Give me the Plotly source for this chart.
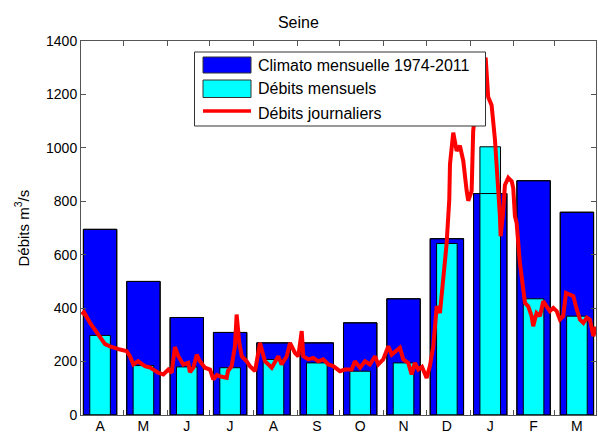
import plotly.graph_objects as go

# ---------------- data ----------------
months = ["A", "M", "J", "J", "A", "S", "O", "N", "D", "J", "F", "M"]
climato = [695, 500, 365, 309, 270, 270, 345, 435, 660, 829, 877, 759]
mensuels = [298, 185, 180, 177, 208, 195, 164, 195, 642, 1004, 435, 370]

# daily flows: day index from 1 April, value in m3/s
days = [0.5, 2.1, 6.4, 9.9, 13.4, 17.0, 20.5, 24.0, 27.6, 32.3, 34.6, 37.0, 40.3, 45.2,
        48.8, 51.1, 54.6, 58.2, 61.7, 64.1, 66.4, 68.8, 72.3, 75.8, 77.0, 79.4, 81.8,
        84.1, 87.6, 91.2, 93.5, 96.1, 98.2, 103.0, 103.9, 106.5, 108.8, 110.0, 111.9,
        113.6, 117.1, 119.4, 123.0, 126.5, 127.7, 130.0, 134.8, 139.4, 141.8, 145.4,
        147.7, 151.2, 153.6, 156.0, 157.1, 160.6, 164.2, 167.7, 171.2, 174.8, 178.3,
        183.0, 186.6, 191.3, 193.6, 197.2, 200.7, 204.2, 207.8, 210.1, 213.6, 217.2,
        219.6, 223.1, 225.4, 227.8, 231.3, 233.7, 236.0, 238.4, 241.0, 244.3, 246.6,
        249.0, 251.4, 253.7, 256.0, 258.4, 260.3, 260.8, 263.1, 265.5, 267.8, 270.2,
        272.6, 273.7, 276.1, 277.2, 281.3, 286.0, 287.8, 290.2, 292.6, 294.9, 296.1,
        296.6, 298.4, 299.6, 302.0, 304.4, 305.5, 306.7, 307.9, 310.2, 312.6, 313.8,
        316.1, 318.5, 319.6, 322.0, 324.4, 326.7, 329.1, 331.4, 333.8, 336.2, 338.5,
        340.8, 342.8, 345.6, 348.0, 350.4, 352.7, 355.1, 357.5, 359.7, 362.1, 364.0]
journaliers = [376, 385, 345, 320, 290, 265, 257, 250, 245, 239, 220, 189, 201, 183,
               178, 170, 158, 152, 170, 158, 255, 220, 189, 195, 160, 177, 226,
               201, 177, 170, 133, 150, 145, 139, 165, 183, 257, 376, 270,
               220, 201, 183, 164, 270, 245, 201, 177, 220, 189, 220,
               270, 233, 220, 314, 220, 208, 214, 201, 208, 189, 183,
               164, 170, 170, 201, 177, 201, 189, 220, 189, 208, 257,
               226, 239, 252, 208, 195, 152, 195, 170, 180, 139, 183,
               257, 407, 382, 507, 640, 807, 939, 1057, 989, 1008, 951,
               839, 802, 839, 1064, 1250, 1338, 1190, 1160, 1030, 860, 744,
               669, 760, 860, 888, 875, 850, 744, 719, 570, 482, 420,
               407, 370, 332, 382, 370, 426, 407, 389, 401, 389, 357,
               370, 457, 451, 445, 395, 357, 345, 364, 357, 295, 330]

month_ends = [30, 61, 91, 122, 153, 183, 214, 244, 275, 306, 335]
yticks = [0, 200, 400, 600, 800, 1000, 1200, 1400]

legend_labels = ["Climato mensuelle 1974-2011", "Débits mensuels", "Débits journaliers"]

# ---------------- figure ----------------
FONT = "Liberation Sans, Arial, sans-serif"
AXC = "#555555"
idx = list(range(len(months)))

fig = go.Figure()
fig.add_trace(go.Bar(x=idx, y=climato, width=0.77, marker=dict(color="#0000FF", line=dict(color="black", width=1)),
                     name=legend_labels[0], showlegend=False, xaxis="x", yaxis="y"))
fig.add_trace(go.Bar(x=idx, y=mensuels, width=0.475, marker=dict(color="#00FFFF", line=dict(color="black", width=1)),
                     name=legend_labels[1], showlegend=False, xaxis="x", yaxis="y"))
fig.add_trace(go.Bar(x=idx, y=climato, width=0.77, marker=dict(color="rgba(0,0,0,0)", line=dict(color="black", width=1)),
                     showlegend=False, hoverinfo="skip", xaxis="x", yaxis="y"))
fig.add_trace(go.Scatter(x=days, y=journaliers, mode="lines", line=dict(color="#FF0000", width=4),
                         name=legend_labels[2], showlegend=False, xaxis="x2", yaxis="y"))

fig.update_layout(
    width=598, height=435,
    margin=dict(l=81, r=2, t=41, b=20, autoexpand=False),
    paper_bgcolor="white", plot_bgcolor="white",
    barmode="overlay",
    font=dict(family=FONT, size=14, color="black"),
    title=dict(text="Seine", x=0.499, xanchor="center", y=1 - 22 / 435, yanchor="middle",
               font=dict(family=FONT, size=16, color="black")),
    xaxis=dict(range=[-0.44, 11.44], tickvals=idx, ticktext=months, ticks="",
               showline=True, linecolor=AXC, linewidth=1, mirror=True, automargin=False,
               showgrid=False, zeroline=False, tickfont=dict(size=14), ticklabelstandoff=-2),
    xaxis2=dict(overlaying="x", anchor="y", range=[0, 364], tickvals=month_ends, ticks="inside",
                ticklen=5, tickcolor=AXC, showticklabels=False, showline=False, mirror="ticks",
                automargin=False, showgrid=False, zeroline=False),
    xaxis3=dict(overlaying="x", anchor="y", side="top", range=[-0.44, 11.44], tickvals=idx,
                ticks="inside", ticklen=5, tickcolor=AXC, showticklabels=False, showline=False,
                automargin=False, showgrid=False, zeroline=False),
    yaxis=dict(range=[0, 1400], tickvals=yticks, ticks="inside", ticklen=5, tickcolor=AXC,
               showline=True, linecolor=AXC, linewidth=1, mirror="ticks", automargin=False,
               showgrid=False, zeroline=False, tickfont=dict(size=14)),
)

# axis title
fig.add_annotation(text="Débits m<sup>3</sup>/s", textangle=-90, xref="paper", yref="paper",
                   x=(21.5 - 81) / 515, y=0.5, xanchor="center", yanchor="middle", showarrow=False,
                   font=dict(family=FONT, size=15, color="black"))

# legend box (drawn manually to match patch shapes)
def px(x):
    return (x - 81) / 515

def py(y):
    return (415 - y) / 374

fig.add_shape(type="rect", xref="paper", yref="paper", x0=px(194.5), x1=px(485.5), y0=py(126), y1=py(52),
              fillcolor="white", line=dict(color="#333333", width=1), layer="above")
fig.add_shape(type="rect", xref="paper", yref="paper", x0=px(203), x1=px(251), y0=py(73), y1=py(57),
              fillcolor="#0000FF", line=dict(color="#333333", width=1), layer="above")
fig.add_shape(type="rect", xref="paper", yref="paper", x0=px(203), x1=px(251), y0=py(97.5), y1=py(80),
              fillcolor="#00FFFF", line=dict(color="#333333", width=1), layer="above")
fig.add_shape(type="line", xref="paper", yref="paper", x0=px(203), x1=px(251), y0=py(111), y1=py(111),
              line=dict(color="#FF0000", width=3.5), layer="above")
for lab, yy in zip(legend_labels, [65, 89, 113]):
    fig.add_annotation(text=lab, xref="paper", yref="paper", x=px(256), y=py(yy), xanchor="left",
                       yanchor="middle", showarrow=False, font=dict(family=FONT, size=16, color="black"))

fig.write_html("out.html")
